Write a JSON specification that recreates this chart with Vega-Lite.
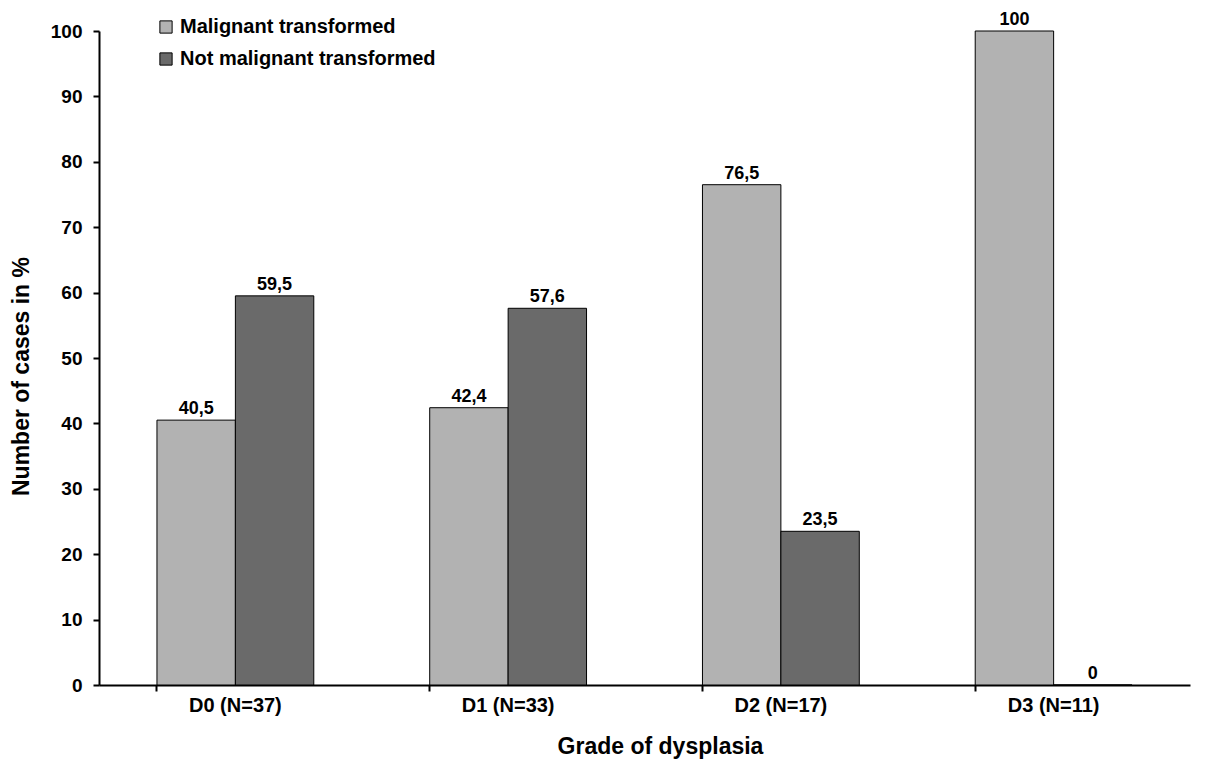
{
  "$schema": "https://vega.github.io/schema/vega-lite/v6.json",
  "width": 1091,
  "height": 654,
  "autosize": {"type": "none"},
  "padding": {"left": 99, "top": 31, "right": 15, "bottom": 89},
  "background": "white",
  "data": {
    "values": [
      {"grade": "D0 (N=37)", "status": "Malignant transformed", "pct": 40.5},
      {"grade": "D0 (N=37)", "status": "Not malignant transformed", "pct": 59.5},
      {"grade": "D1 (N=33)", "status": "Malignant transformed", "pct": 42.4},
      {"grade": "D1 (N=33)", "status": "Not malignant transformed", "pct": 57.6},
      {"grade": "D2 (N=17)", "status": "Malignant transformed", "pct": 76.5},
      {"grade": "D2 (N=17)", "status": "Not malignant transformed", "pct": 23.5},
      {"grade": "D3 (N=11)", "status": "Malignant transformed", "pct": 100},
      {"grade": "D3 (N=11)", "status": "Not malignant transformed", "pct": 0}
    ]
  },
  "encoding": {
    "x": {
      "field": "grade",
      "type": "nominal",
      "sort": null,
      "scale": {"paddingInner": 0.425, "paddingOuter": 0.2125},
      "axis": {
        "title": "Grade of dysplasia",
        "labelAngle": 0,
        "bandPosition": 0,
        "tickSize": 6,
        "labelPadding": 4,
        "titlePadding": 20,
        "titleX": 561
      }
    },
    "xOffset": {"field": "status", "type": "nominal", "sort": ["Malignant transformed", "Not malignant transformed"]},
    "y": {
      "field": "pct",
      "type": "quantitative",
      "scale": {"domain": [0, 100], "nice": false},
      "axis": {
        "title": "Number of cases in %",
        "values": [0, 10, 20, 30, 40, 50, 60, 70, 80, 90, 100],
        "tickSize": 6,
        "labelPadding": 11,
        "titlePadding": 17,
        "titleY": 345,
        "grid": false
      }
    }
  },
  "layer": [
    {
      "mark": {"type": "bar", "stroke": "black", "strokeWidth": 1},
      "encoding": {
        "color": {
          "field": "status",
          "type": "nominal",
          "scale": {"domain": ["Malignant transformed", "Not malignant transformed"], "range": ["#b2b2b2", "#6a6a6a"]},
          "legend": {
            "title": null,
            "orient": "none",
            "legendX": 57,
            "legendY": -14,
            "symbolType": "square",
            "symbolSize": 150,
            "symbolStrokeColor": "black",
            "symbolStrokeWidth": 1,
            "symbolOpacity": 1,
            "labelFontSize": 20,
            "labelFont": "Liberation Sans",
            "labelFontWeight": "bold",
            "labelColor": "black",
            "labelOffset": 4,
            "rowPadding": 12,
            "padding": 0,
            "labelLimit": 500
          }
        }
      }
    },
    {
      "mark": {"type": "text", "dy": -11, "font": "Liberation Sans", "fontWeight": "bold", "fontSize": 18, "color": "black"},
      "encoding": {
        "text": {"field": "pct", "type": "quantitative", "format": ".1~f"}
      }
    }
  ],
  "config": {
    "locale": {"number": {"decimal": ",", "thousands": ".", "grouping": [3], "currency": ["", " €"]}},
    "view": {"stroke": null},
    "axis": {
      "domainColor": "black",
      "domainWidth": 2,
      "tickColor": "black",
      "tickWidth": 2,
      "labelFont": "Liberation Sans",
      "labelFontWeight": "bold",
      "labelFontSize": 19,
      "labelColor": "black",
      "titleFont": "Liberation Sans",
      "titleFontWeight": "bold",
      "titleFontSize": 23,
      "titleColor": "black"
    },
    "axisX": {"labelFontSize": 20}
  }
}
